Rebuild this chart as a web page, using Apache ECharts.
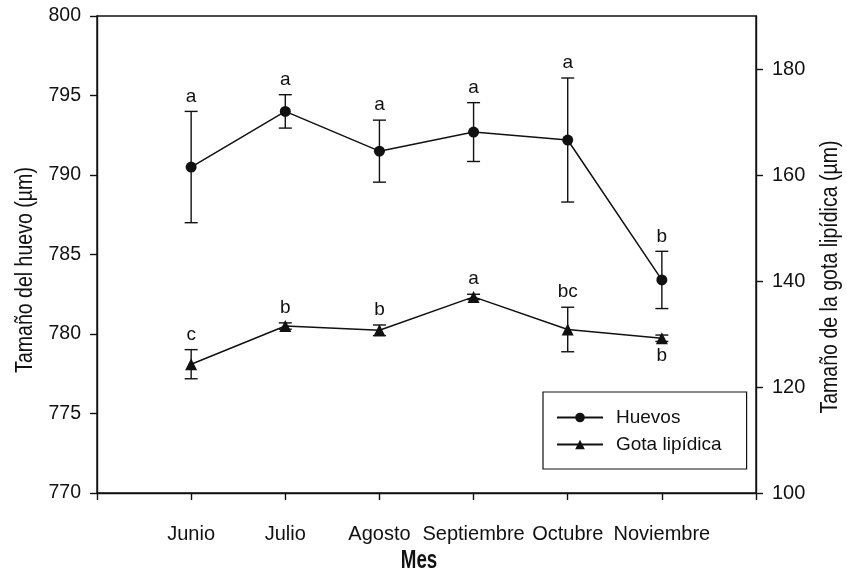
<!DOCTYPE html>
<html>
<head>
<meta charset="utf-8">
<script src="https://cdn.jsdelivr.net/npm/echarts@6/dist/echarts.min.js"></script>
<style>
html,body{margin:0;padding:0;background:#fff;}
#chart{width:847px;height:575px;}
</style>
</head>
<body>
<div id="chart"></div>
<script>
// ---- data ----
const months = ['Junio', 'Julio', 'Agosto', 'Septiembre', 'Octubre', 'Noviembre'];
const huevosMean = [790.5, 794.0, 791.5, 792.7, 792.2, 783.4];
const huevosErr = [3.5, 1.05, 1.95, 1.85, 3.9, 1.8];
const huevosLetters = ['a', 'a', 'a', 'a', 'a', 'b'];
const gotaMean = [124.3, 131.5, 130.7, 137.0, 130.85, 129.2];
const gotaErr = [2.75, 0.6, 1.0, 0.5, 4.2, 0.6];
const gotaLetters = ['c', 'b', 'b', 'a', 'bc', 'b'];
const gotaLetterBelow = [false, false, false, false, false, true];
const leftTicks = [770, 775, 780, 785, 790, 795, 800];
const rightTicks = [100, 120, 140, 160, 180];
const seriesNames = ['Huevos', 'Gota lipídica'];
const xAxisTitle = 'Mes';
const leftTitle = 'Tamaño del huevo (µm)';
const rightTitle = 'Tamaño de la gota lipídica (µm)';

const FONT = "'Liberation Sans', Arial, sans-serif";
const INK = '#111';

const positions = months.map((m, i) => i + 1);

function lineData(means) { return means.map((v, i) => [positions[i], v]); }
function errData(means, errs) {
  return means.map((v, i) => [positions[i], v - errs[i], v + errs[i], v]);
}

function makeRenderErr(letters, below) {
  return function (params, api) {
    const i = params.dataIndex;
    const x = api.value(0);
    const lo = api.coord([x, api.value(1)]);
    const hi = api.coord([x, api.value(2)]);
    const mid = api.coord([x, api.value(3)]);
    const cap = 6.5;
    const st = { stroke: INK, lineWidth: 1.4 };
    const isBelow = below ? below[i] : false;
    const textY = isBelow ? mid[1] + 18 : hi[1] - 15;
    return {
      type: 'group',
      children: [
        { type: 'line', shape: { x1: hi[0], y1: hi[1], x2: lo[0], y2: lo[1] }, style: st },
        { type: 'line', shape: { x1: hi[0] - cap, y1: hi[1], x2: hi[0] + cap, y2: hi[1] }, style: st },
        { type: 'line', shape: { x1: lo[0] - cap, y1: lo[1], x2: lo[0] + cap, y2: lo[1] }, style: st },
        { type: 'text', x: hi[0], y: textY, z2: 10,
          style: { text: letters[i], fill: INK, font: '19px ' + FONT, textAlign: 'center', textVerticalAlign: 'middle' } }
      ]
    };
  };
}

const chart = echarts.init(document.getElementById('chart'), null, { renderer: 'canvas' });
const axisLineStyle = { color: INK, width: 1.4 };

chart.setOption({
  animation: false,
  backgroundColor: '#fff',
  grid: { left: 97, right: 91, top: 16, bottom: 82, show: true, borderColor: INK, borderWidth: 1.4, backgroundColor: 'transparent' },
  legend: {
    left: 543, top: 392,
    orient: 'vertical',
    data: seriesNames,
    itemWidth: 46, itemHeight: 12, itemGap: 8,
    padding: [16, 25, 15, 13],
    borderColor: INK, borderWidth: 1.2,
    textStyle: { fontFamily: FONT, fontSize: 19, color: INK, padding: [0, 0, 0, 8] },
    selectedMode: false
  },
  xAxis: {
    type: 'value', min: 0, max: months.length + 1, interval: 1,
    splitLine: { show: false },
    axisLine: { lineStyle: axisLineStyle },
    axisTick: { show: true, length: 7, lineStyle: axisLineStyle },
    axisLabel: {
      customValues: positions,
      formatter: v => months[v - 1] || '',
      margin: 31, fontFamily: FONT, fontSize: 20, color: INK
    }
  },
  yAxis: [
    {
      type: 'value', min: 770, max: 800, interval: 5, position: 'left',
      splitLine: { show: false },
      axisLine: { show: true, lineStyle: axisLineStyle },
      axisTick: { show: true, length: 7, lineStyle: axisLineStyle, customValues: leftTicks },
      axisLabel: { customValues: leftTicks, margin: 16, fontFamily: FONT, fontSize: 19.5, color: INK }
    },
    {
      type: 'value', min: 100, max: 190, interval: 10, position: 'right',
      splitLine: { show: false },
      axisLine: { show: true, lineStyle: axisLineStyle },
      axisTick: { show: true, length: 7, lineStyle: axisLineStyle, customValues: rightTicks },
      axisLabel: { customValues: rightTicks, margin: 16, fontFamily: FONT, fontSize: 20, color: INK }
    }
  ],
  graphic: [
    { type: 'text', x: 419, y: 561, scaleX: 0.75, style: { text: xAxisTitle, font: 'bold 25px ' + FONT, fill: INK, textAlign: 'center', textVerticalAlign: 'middle' } },
    { type: 'text', x: 26, y: 270, rotation: Math.PI / 2, scaleX: 0.85, style: { text: leftTitle, font: '23px ' + FONT, fill: INK, textAlign: 'center', textVerticalAlign: 'middle' } },
    { type: 'text', x: 831, y: 277, rotation: Math.PI / 2, scaleX: 0.85, style: { text: rightTitle, font: '23px ' + FONT, fill: INK, textAlign: 'center', textVerticalAlign: 'middle' } }
  ],
  series: [
    {
      name: seriesNames[0], type: 'line', yAxisIndex: 0, z: 5,
      data: lineData(huevosMean),
      symbol: 'circle', symbolSize: 11,
      itemStyle: { color: INK },
      lineStyle: { color: INK, width: 1.5 }
    },
    {
      name: seriesNames[1], type: 'line', yAxisIndex: 1, z: 5,
      data: lineData(gotaMean),
      symbol: 'triangle', symbolSize: 12,
      itemStyle: { color: INK },
      lineStyle: { color: INK, width: 1.5 }
    },
    {
      type: 'custom', yAxisIndex: 0, z: 3,
      data: errData(huevosMean, huevosErr),
      renderItem: makeRenderErr(huevosLetters)
    },
    {
      type: 'custom', yAxisIndex: 1, z: 3,
      data: errData(gotaMean, gotaErr),
      renderItem: makeRenderErr(gotaLetters, gotaLetterBelow)
    }
  ]
});
</script>
</body>
</html>
